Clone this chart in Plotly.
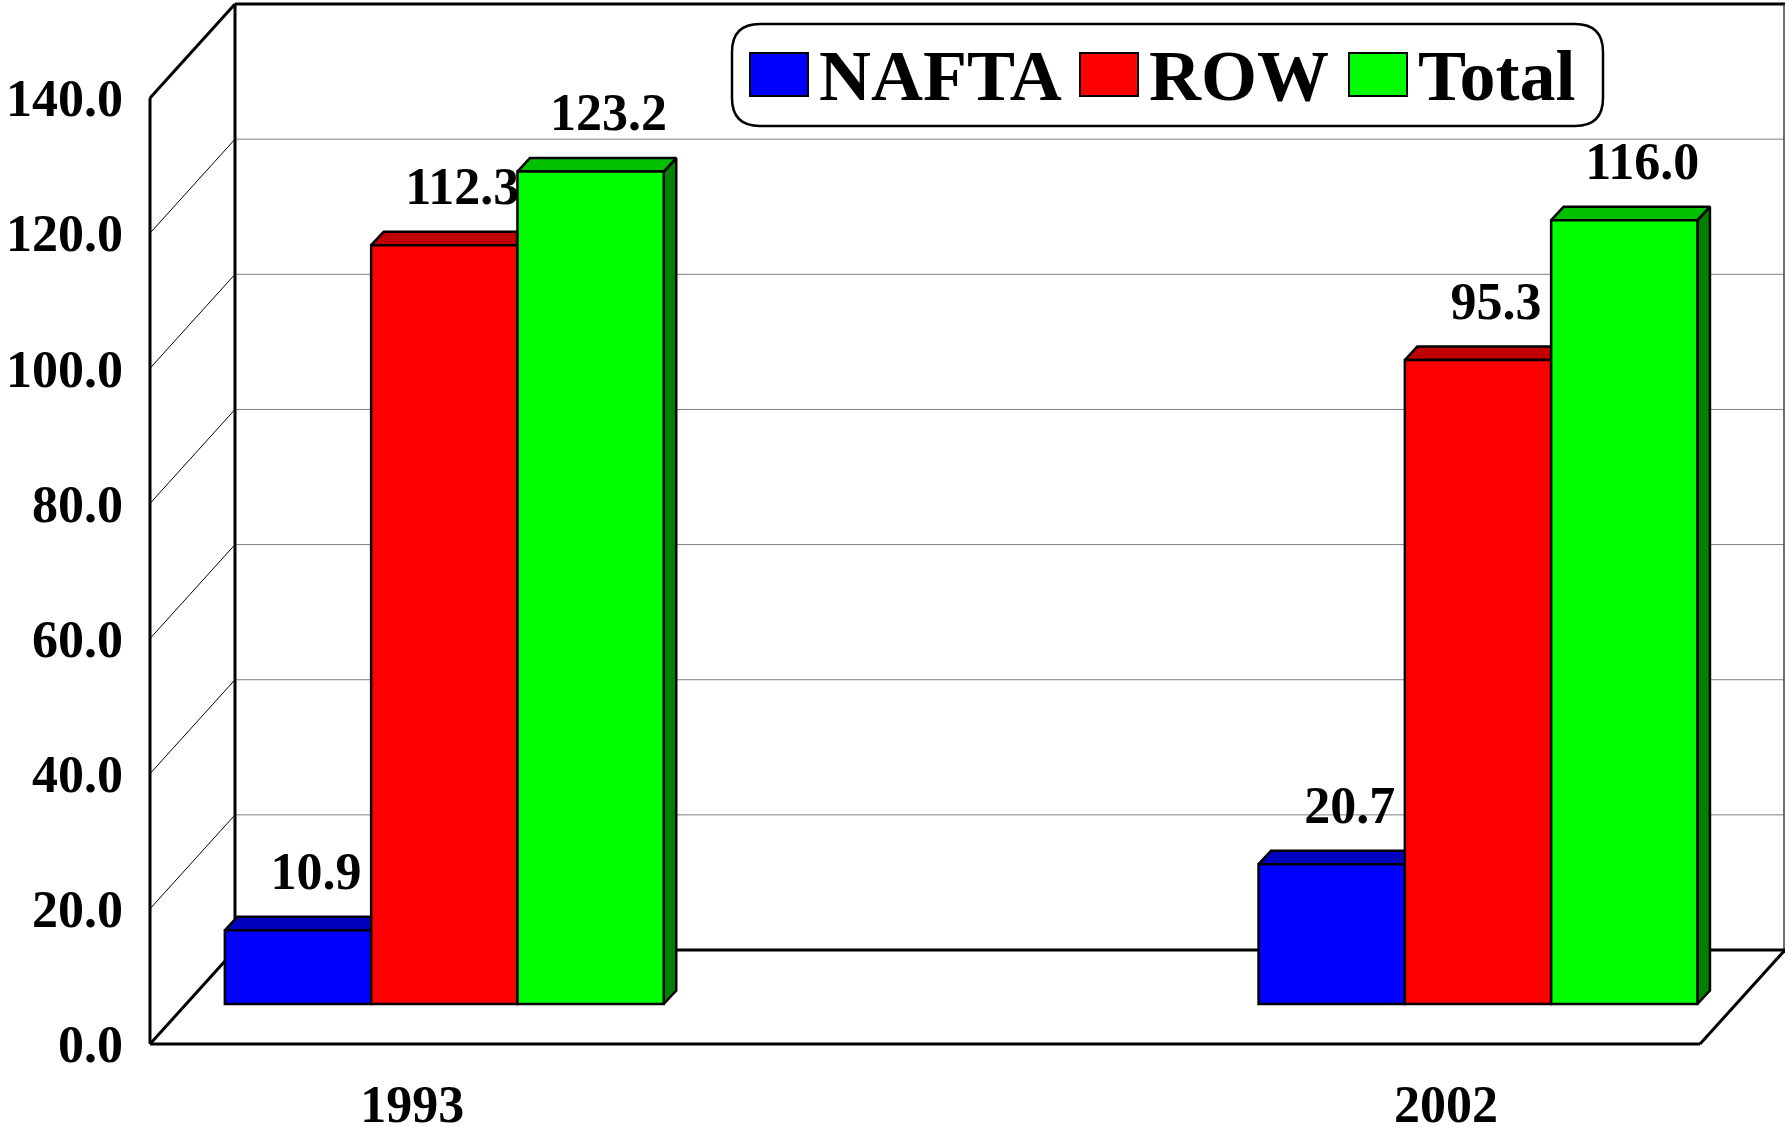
import plotly.graph_objects as go

# data
years = ["1993", "2002"]
series = ["NAFTA", "ROW", "Total"]
nafta = [10.9, 20.7]
row = [112.3, 95.3]
total = [123.2, 116.0]
y_ticks = [0, 20, 40, 60, 80, 100, 120, 140]

front_colors = ["#0000FF", "#FF0000", "#00FF00"]
top_colors = ["#0000C0", "#C00000", "#00C000"]
side_colors = ["#000080", "#800000", "#008000"]

FONT = "Liberation Serif, Times New Roman, serif"

# geometry of the fake 3D box (pixels)
W, H = 1785, 1127
L, B = 124, 60
K = 6.757                 # pixels per unit
BASE_PX = 1004            # row of value 0 in the bar plane
ymax = BASE_PX / K
ymin = ymax - (H - B) / K

FRONT_DY = -40 / K        # front plane sits lower
BACK_DY = 54 / K          # back wall sits higher
X_FRONT, X_BACK = 150, 235
X_FLOOR_R, X_RIGHT = 1700, 1784

group_centers = [444.3, 1478.0]
bar_w = 146.3
depth_dx, depth_dy = 12.5, 13.5 / K
label_dx, label_dy = 18, 54.5 / K
cat_dx = -32


def py(p):
    return ymax - p / K


def front(v):
    return v + FRONT_DY


def back(v):
    return v + BACK_DY


fig = go.Figure()


def seg(x0, y0, x1, y1, width=3, color="black"):
    fig.add_shape(type="line", x0=x0, y0=y0, x1=x1, y1=y1, xref="x", yref="y",
                  line=dict(color=color, width=width), layer="below")


# walls and gridlines
top = y_ticks[-1]
for v in y_ticks[1:-1]:
    seg(X_BACK, back(v), X_RIGHT, back(v), width=1, color="#808080")
    seg(X_FRONT, front(v), X_BACK, back(v), width=1, color="black")
seg(X_BACK, back(0), X_BACK, back(top))
seg(X_BACK, back(top), X_RIGHT + 1, back(top))
seg(X_RIGHT, back(0), X_RIGHT, back(top), width=1.5, color="#404040")
seg(X_FRONT, front(0), X_FRONT, front(top))
seg(X_FRONT, front(top), X_BACK, back(top))
seg(X_FRONT, front(0), X_BACK, back(0))
seg(X_BACK, back(0), X_RIGHT + 1, back(0))
seg(X_FRONT, front(0), X_FLOOR_R, front(0))
seg(X_FLOOR_R, front(0), X_RIGHT + 1, back(0))

values = [nafta, row, total]

# top and side faces (drawn first, on base axes)
for s, vals in enumerate(values):
    for g, v in enumerate(vals):
        c = group_centers[g] + (s - 1) * bar_w
        xl, xr = c - bar_w / 2, c + bar_w / 2
        fig.add_trace(go.Scatter(
            x=[xr, xr, xr + depth_dx, xr + depth_dx, xr],
            y=[0, v, v + depth_dy, depth_dy, 0],
            mode="lines", fill="toself", fillcolor=side_colors[s],
            line=dict(color="black", width=2.5), hoverinfo="skip", showlegend=False,
        ))
        fig.add_trace(go.Scatter(
            x=[xl, xr, xr + depth_dx, xl + depth_dx, xl],
            y=[v, v, v + depth_dy, v + depth_dy, v],
            mode="lines", fill="toself", fillcolor=top_colors[s],
            line=dict(color="black", width=2.5), hoverinfo="skip", showlegend=False,
        ))

# data labels
for s, vals in enumerate(values):
    fig.add_trace(go.Scatter(
        x=[group_centers[g] + (s - 1) * bar_w + label_dx for g in range(len(vals))],
        y=[v + label_dy for v in vals],
        text=[f"{v:.1f}" for v in vals],
        mode="text", textposition="middle center",
        textfont=dict(family=FONT, size=52, color="black", weight="bold"),
        cliponaxis=False, hoverinfo="skip", showlegend=False,
    ))

# front faces on overlay axis so they cover faces behind
for s, vals in enumerate(values):
    fig.add_trace(go.Bar(
        x=[group_centers[g] + (s - 1) * bar_w for g in range(len(vals))],
        y=vals, width=bar_w, name=series[s], yaxis="y2",
        marker=dict(color=front_colors[s], line=dict(color="black", width=2.5)),
        showlegend=False, hoverinfo="skip",
    ))

# custom legend
lx0, lx1, ly0, ly1, r = 732, 1603, 24, 126, 28
path = (f"M{lx0 + r},{py(ly0)} L{lx1 - r},{py(ly0)} Q{lx1},{py(ly0)} {lx1},{py(ly0 + r)} "
        f"L{lx1},{py(ly1 - r)} Q{lx1},{py(ly1)} {lx1 - r},{py(ly1)} "
        f"L{lx0 + r},{py(ly1)} Q{lx0},{py(ly1)} {lx0},{py(ly1 - r)} "
        f"L{lx0},{py(ly0 + r)} Q{lx0},{py(ly0)} {lx0 + r},{py(ly0)} Z")
fig.add_shape(type="path", path=path, xref="x", yref="y", fillcolor="white",
              line=dict(color="black", width=2.5))
key_x = [750, 1080, 1349]
key_w = 58
for s, name in enumerate(series):
    fig.add_shape(type="rect", x0=key_x[s], x1=key_x[s] + key_w, y0=py(53), y1=py(96),
                  xref="x", yref="y", fillcolor=front_colors[s],
                  line=dict(color="black", width=2))
    fig.add_annotation(x=key_x[s] + key_w + 9, y=py(76), xref="x", yref="y",
                       text=name, showarrow=False, xanchor="left", yanchor="middle",
                       font=dict(family=FONT, size=72, color="black", weight="bold"))

fig.update_layout(
    width=W, height=H,
    margin=dict(l=L, r=0, t=0, b=B),
    paper_bgcolor="white", plot_bgcolor="white",
    barmode="overlay", showlegend=False,
    xaxis=dict(range=[L, W], showgrid=False, zeroline=False, showline=False,
               automargin=False, tickmode="array",
               tickvals=[c + cat_dx for c in group_centers], ticktext=years,
               ticks="", ticklabelstandoff=2,
               tickfont=dict(family=FONT, size=52, color="black", weight="bold")),
    yaxis=dict(range=[ymin, ymax], showgrid=False, zeroline=False, showline=False,
               automargin=False, tickmode="array", tickvals=[front(v) for v in y_ticks],
               ticktext=[f"{v:.1f}" for v in y_ticks], ticks="",
               tickfont=dict(family=FONT, size=52, color="black", weight="bold")),
    yaxis2=dict(range=[ymin, ymax], overlaying="y", visible=False, automargin=False),
)

# drop the default page margin so the figure fills the window exactly
fig.write_html("out.html", config={"displayModeBar": False},
               post_script="document.body.style.margin = '0';")
